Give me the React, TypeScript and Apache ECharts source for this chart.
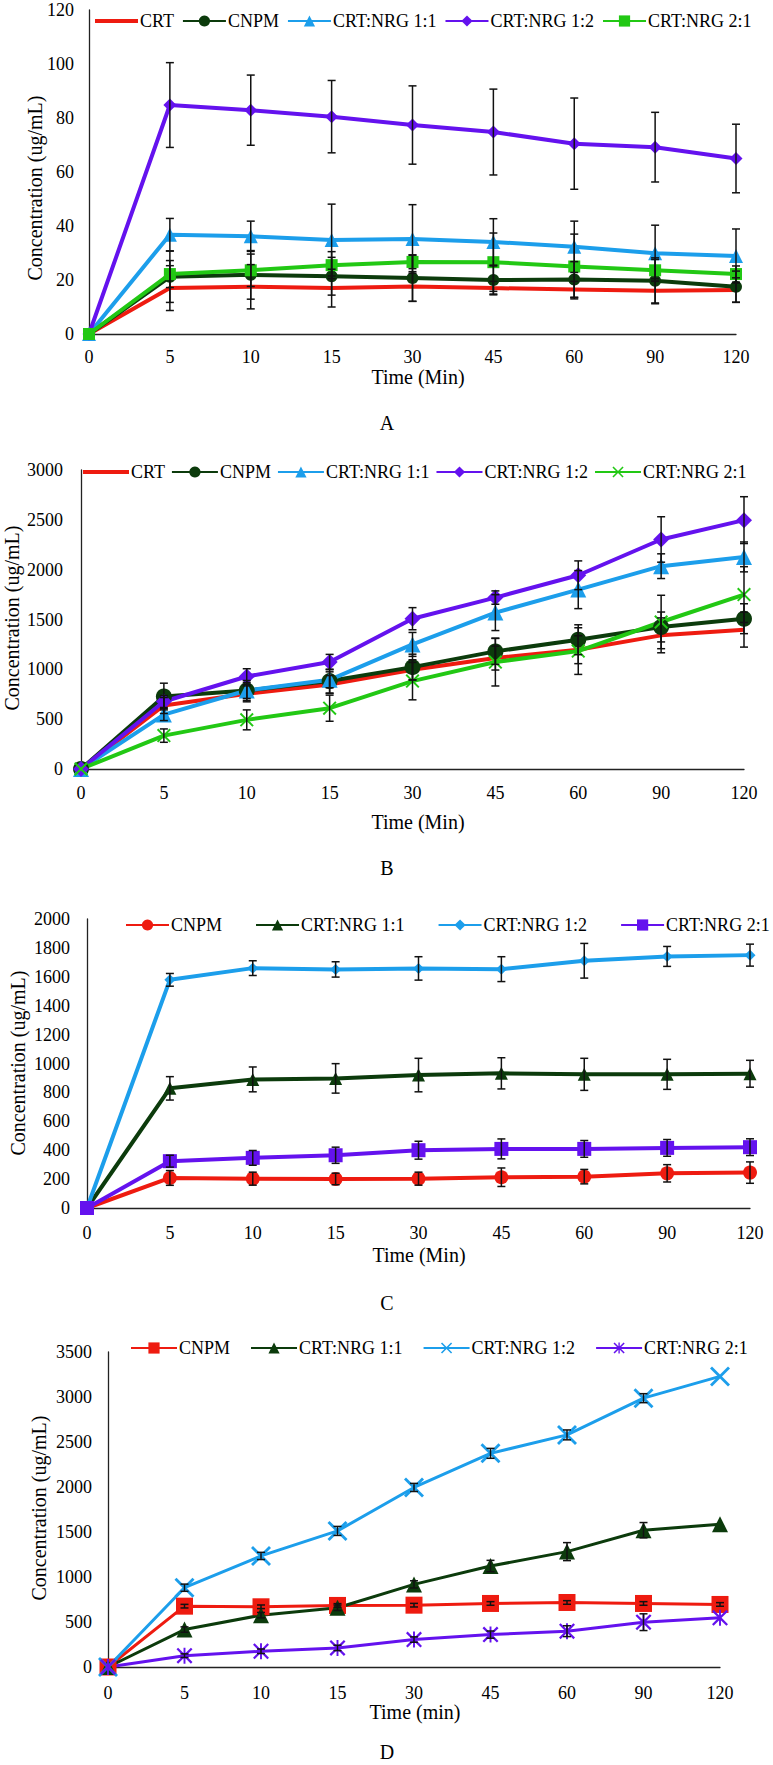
import React, { useEffect, useRef } from 'react';
import * as echarts from 'echarts';

const times = ['0', '5', '10', '15', '30', '45', '60', '90', '120'];

// Panel A (ug/mL)
const aCRT = [0, 17.0, 17.5, 17.0, 17.6, 17.0, 16.5, 16.0, 16.3];
const aCRTErr = [0, 8.3, 8.2, 7, 5.5, 2.5, 3, 4.5, 4.5];
const aCNPM = [0, 21.2, 21.9, 21.4, 20.7, 20.0, 20.2, 19.7, 17.5];
const aCNPMErr = [0, 9.5, 9, 7, 8.6, 5.2, 6.6, 8.5, 5.8];
const aNRG11 = [0, 36.8, 36.2, 34.8, 35.2, 34.1, 32.3, 29.9, 28.9];
const aNRG11Err = [0, 6, 5.6, 13.3, 12.7, 8.6, 9.5, 10.4, 10];
const aNRG12 = [0, 84.8, 82.9, 80.5, 77.4, 74.8, 70.5, 69.2, 65.0];
const aNRG12Err = [0, 15.7, 13, 13.4, 14.5, 15.9, 16.9, 12.9, 12.7];
const aNRG21 = [0, 22.2, 23.6, 25.5, 26.7, 26.6, 25.0, 23.6, 22.2];
const aNRG21Err = [0, 5, 6, 5, 2.5, 10.8, 12, 4, 3];

// Panel B
const bCRT = [0, 637, 754, 848, 996, 1113, 1197, 1341, 1398];
const bCRTErr = [0, 80, 80, 90, 100, 120, 140, 175, 175];
const bCNPM = [0, 727, 788, 882, 1022, 1180, 1297, 1425, 1508];
const bCNPMErr = [0, 134, 100, 120, 130, 130, 150, 150, 150];
const bNRG11 = [0, 546, 788, 895, 1250, 1569, 1800, 2035, 2128];
const bNRG11Err = [0, 60, 80, 80, 120, 180, 191, 124, 150];
const bNRG12 = [0, 677, 928, 1073, 1508, 1720, 1944, 2303, 2497];
const bNRG12Err = [0, 60, 78, 77, 111, 67, 144, 228, 235];
const bNRG21 = [0, 335, 493, 610, 882, 1073, 1183, 1475, 1750];
const bNRG21Err = [0, 67, 100, 131, 188, 240, 234, 268, 280];

// Panel C
const cCNPM = [0, 208, 203, 201, 203, 213, 217, 240, 245];
const cCNPMErr = [0, 51, 45, 40, 45, 64, 50, 60, 74];
const cNRG11 = [0, 828, 890, 897, 920, 932, 925, 925, 929];
const cNRG11Err = [0, 81, 86, 102, 116, 108, 111, 104, 93];
const cNRG12 = [0, 1579, 1660, 1651, 1658, 1653, 1711, 1741, 1750];
const cNRG12Err = [0, 44, 51, 53, 81, 86, 120, 69, 76];
const cNRG21 = [0, 324, 347, 365, 400, 409, 409, 416, 421];
const cNRG21Err = [0, 41, 51, 56, 62, 69, 58, 58, 58];

// Panel D
const dCNPM = [0, 676, 669, 684, 687, 706, 717, 706, 695];
const dCNPMErr = [0, 20, 20, 20, 20, 20, 20, 20, 20];
const dNRG11 = [0, 416, 576, 658, 918, 1122, 1282, 1520, 1587];
const dNRG11Err = [0, 30, 30, 30, 40, 63, 100, 85, 0];
const dNRG12 = [0, 881, 1234, 1512, 1995, 2374, 2579, 2987, 3229];
const dNRG12Err = [0, 40, 40, 50, 45, 55, 55, 50, 0];
const dNRG21 = [0, 126, 175, 212, 305, 360, 398, 498, 546];
const dNRG21Err = [0, 20, 25, 30, 30, 40, 60, 93, 0];

const FONT = '"Liberation Serif", "Times New Roman", serif';
const RED = '#EE1B10';
const DKGREEN = '#0C3B0C';
const BLUE = '#1C9EEB';
const PURPLE = '#6412EE';
const GREEN = '#22C814';

const X_SYM = 'path://M0,1L1,0L5,4L9,0L10,1L6,5L10,9L9,10L5,6L1,10L0,9L4,5Z';
const AST_SYM = 'path://M0,1L1,0L5,4L9,0L10,1L6,5L10,9L9,10L5,6L1,10L0,9L4,5Z M4.4,0L5.6,0L5.6,10L4.4,10Z';
const LINE_ICON = 'path://M0,0L44,0L44,4L0,4Z';

type S = {
  name: string;
  values: number[];
  errors: number[];
  color: string;
  symbol: string;
  size: number;
  width: number;
};

type P = {
  key: string;
  grid: { left: number; top: number; width: number; height: number };
  yMax: number;
  yInt: number;
  yMargin: number;
  xMargin: number;
  legend: { left: number; top: number; itemWidth: number; itemGap: number };
  series: S[];
};

const panels: P[] = [
  {
    key: 'A',
    grid: { left: 89, top: 10, width: 647, height: 324 },
    yMax: 120, yInt: 20, yMargin: 15, xMargin: 14,
    legend: { left: 95, top: 12, itemWidth: 43, itemGap: 8 },
    series: [
      { name: 'CRT', values: aCRT, errors: aCRTErr, color: RED, symbol: 'none', size: 0, width: 4 },
      { name: 'CNPM', values: aCNPM, errors: aCNPMErr, color: DKGREEN, symbol: 'circle', size: 12, width: 4 },
      { name: 'CRT:NRG 1:1', values: aNRG11, errors: aNRG11Err, color: BLUE, symbol: 'triangle', size: 14, width: 4 },
      { name: 'CRT:NRG 1:2', values: aNRG12, errors: aNRG12Err, color: PURPLE, symbol: 'diamond', size: 13, width: 4 },
      { name: 'CRT:NRG 2:1', values: aNRG21, errors: aNRG21Err, color: GREEN, symbol: 'rect', size: 12, width: 4 },
    ],
  },
  {
    key: 'B',
    grid: { left: 81, top: 470, width: 663, height: 299 },
    yMax: 3000, yInt: 500, yMargin: 18, xMargin: 15,
    legend: { left: 83, top: 463, itemWidth: 46, itemGap: 6 },
    series: [
      { name: 'CRT', values: bCRT, errors: bCRTErr, color: RED, symbol: 'none', size: 0, width: 4 },
      { name: 'CNPM', values: bCNPM, errors: bCNPMErr, color: DKGREEN, symbol: 'circle', size: 16, width: 4 },
      { name: 'CRT:NRG 1:1', values: bNRG11, errors: bNRG11Err, color: BLUE, symbol: 'triangle', size: 16, width: 4 },
      { name: 'CRT:NRG 1:2', values: bNRG12, errors: bNRG12Err, color: PURPLE, symbol: 'diamond', size: 16, width: 4 },
      { name: 'CRT:NRG 2:1', values: bNRG21, errors: bNRG21Err, color: GREEN, symbol: X_SYM, size: 14, width: 4 },
    ],
  },
  {
    key: 'C',
    grid: { left: 87, top: 919, width: 663, height: 289 },
    yMax: 2000, yInt: 200, yMargin: 17, xMargin: 16,
    legend: { left: 125, top: 916, itemWidth: 43, itemGap: 33 },
    series: [
      { name: 'CNPM', values: cCNPM, errors: cCNPMErr, color: RED, symbol: 'circle', size: 14, width: 4 },
      { name: 'CRT:NRG 1:1', values: cNRG11, errors: cNRG11Err, color: DKGREEN, symbol: 'triangle', size: 13, width: 4 },
      { name: 'CRT:NRG 1:2', values: cNRG12, errors: cNRG12Err, color: BLUE, symbol: 'diamond', size: 11, width: 4 },
      { name: 'CRT:NRG 2:1', values: cNRG21, errors: cNRG21Err, color: PURPLE, symbol: 'rect', size: 14, width: 4 },
    ],
  },
  {
    key: 'D',
    grid: { left: 108, top: 1352, width: 612, height: 315 },
    yMax: 3500, yInt: 500, yMargin: 16, xMargin: 17,
    legend: { left: 130, top: 1339, itemWidth: 46, itemGap: 20 },
    series: [
      { name: 'CNPM', values: dCNPM, errors: dCNPMErr, color: RED, symbol: 'rect', size: 17, width: 3 },
      { name: 'CRT:NRG 1:1', values: dNRG11, errors: dNRG11Err, color: DKGREEN, symbol: 'triangle', size: 16, width: 3 },
      { name: 'CRT:NRG 1:2', values: dNRG12, errors: dNRG12Err, color: BLUE, symbol: X_SYM, size: 20, width: 3 },
      { name: 'CRT:NRG 2:1', values: dNRG21, errors: dNRG21Err, color: PURPLE, symbol: AST_SYM, size: 16, width: 3 },
    ],
  },
];

const xTitles = [
  { text: 'Time (Min)', x: 418, y: 377 },
  { text: 'Time (Min)', x: 418, y: 822 },
  { text: 'Time (Min)', x: 419, y: 1255 },
  { text: 'Time (min)', x: 415, y: 1712 },
];
const yTitles = [
  { x: 35, y: 188 },
  { x: 12, y: 618 },
  { x: 18, y: 1063 },
  { x: 39, y: 1508 },
];
const letters = [
  { text: 'A', y: 423 },
  { text: 'B', y: 868 },
  { text: 'C', y: 1303 },
  { text: 'D', y: 1752 },
];

function buildOption() {
  const grid: any[] = [];
  const xAxis: any[] = [];
  const yAxis: any[] = [];
  const legend: any[] = [];
  const series: any[] = [];
  const graphic: any[] = [];

  panels.forEach((p, gi) => {
    grid.push({ ...p.grid, containLabel: false, outerBoundsMode: 'none' });
    xAxis.push({
      gridIndex: gi,
      type: 'category',
      data: times,
      boundaryGap: false,
      axisLine: { show: true, lineStyle: { color: '#222', width: 1.3 } },
      axisTick: { show: false },
      axisLabel: { color: '#000', fontFamily: FONT, fontSize: 18, margin: p.xMargin },
      splitLine: { show: false },
    });
    yAxis.push({
      gridIndex: gi,
      type: 'value',
      min: 0,
      max: p.yMax,
      interval: p.yInt,
      axisLine: { show: true, lineStyle: { color: '#222', width: 1.3 } },
      axisTick: { show: false },
      axisLabel: {
        color: '#000',
        fontFamily: FONT,
        fontSize: 18,
        margin: p.yMargin,
        formatter: (v: number) => String(v),
      },
      splitLine: { show: false },
    });
    const legendData: any[] = [];
    p.series.forEach((s) => {
      const id = p.key + '|' + s.name;
      legendData.push(s.symbol === 'none' ? { name: id, icon: LINE_ICON } : { name: id });
      series.push({
        type: 'line',
        name: id,
        xAxisIndex: gi,
        yAxisIndex: gi,
        data: s.values,
        symbol: s.symbol,
        symbolSize: s.size,
        showSymbol: s.symbol !== 'none',
        color: s.color,
        lineStyle: { color: s.color, width: s.width },
        itemStyle: { color: s.color },
        emphasis: { disabled: true },
        z: 2,
      });
      const errData = s.values
        .map((v, i) => [i, v - s.errors[i], v + s.errors[i], s.errors[i]])
        .filter((d) => d[3] > 0);
      series.push({
        type: 'custom',
        name: id + ' err',
        xAxisIndex: gi,
        yAxisIndex: gi,
        data: errData,
        encode: { x: 0, y: [1, 2] },
        z: 4,
        silent: true,
        renderItem: (params: any, api: any) => {
          const xi = api.value(0);
          const top = api.coord([xi, api.value(2)]);
          const bot = api.coord([xi, api.value(1)]);
          const w = 4;
          const st = { stroke: '#111', lineWidth: 1.5 };
          return {
            type: 'group',
            children: [
              { type: 'line', shape: { x1: top[0], y1: top[1], x2: bot[0], y2: bot[1] }, style: st },
              { type: 'line', shape: { x1: top[0] - w, y1: top[1], x2: top[0] + w, y2: top[1] }, style: st },
              { type: 'line', shape: { x1: bot[0] - w, y1: bot[1], x2: bot[0] + w, y2: bot[1] }, style: st },
            ],
          };
        },
      });
    });
    legend.push({
      data: legendData,
      left: p.legend.left,
      top: p.legend.top,
      width: 773,
      orient: 'horizontal',
      padding: 0,
      itemWidth: p.legend.itemWidth,
      itemHeight: 14,
      itemGap: p.legend.itemGap,
      selectedMode: false,
      formatter: (n: string) => n.split('|')[1],
      textStyle: { color: '#000', fontFamily: FONT, fontSize: 18, padding: [0, 0, 0, -3] },
    });
  });

  xTitles.forEach((t) => {
    graphic.push({
      type: 'text',
      x: t.x,
      y: t.y,
      style: { text: t.text, font: '20px ' + FONT, fill: '#000', align: 'center', verticalAlign: 'middle' },
    });
  });
  yTitles.forEach((t) => {
    graphic.push({
      type: 'text',
      x: t.x,
      y: t.y,
      rotation: Math.PI / 2,
      style: { text: 'Concentration (ug/mL)', font: '20px ' + FONT, fill: '#000', align: 'center', verticalAlign: 'middle' },
    });
  });
  letters.forEach((t) => {
    graphic.push({
      type: 'text',
      x: 387,
      y: t.y,
      style: { text: t.text, font: '20px ' + FONT, fill: '#000', align: 'center', verticalAlign: 'middle' },
    });
  });

  return {
    animation: false,
    backgroundColor: '#ffffff',
    grid,
    xAxis,
    yAxis,
    legend,
    series,
    graphic,
  };
}

export default function App() {
  const ref = useRef<HTMLDivElement>(null);
  useEffect(() => {
    const chart = echarts.init(ref.current as HTMLDivElement, null, { renderer: 'svg' });
    chart.setOption(buildOption() as any);
    return () => chart.dispose();
  }, []);
  return (
    <div
      ref={ref}
      style={{ position: 'absolute', left: 0, top: 0, width: 773, height: 1765, background: '#fff' }}
    />
  );
}
